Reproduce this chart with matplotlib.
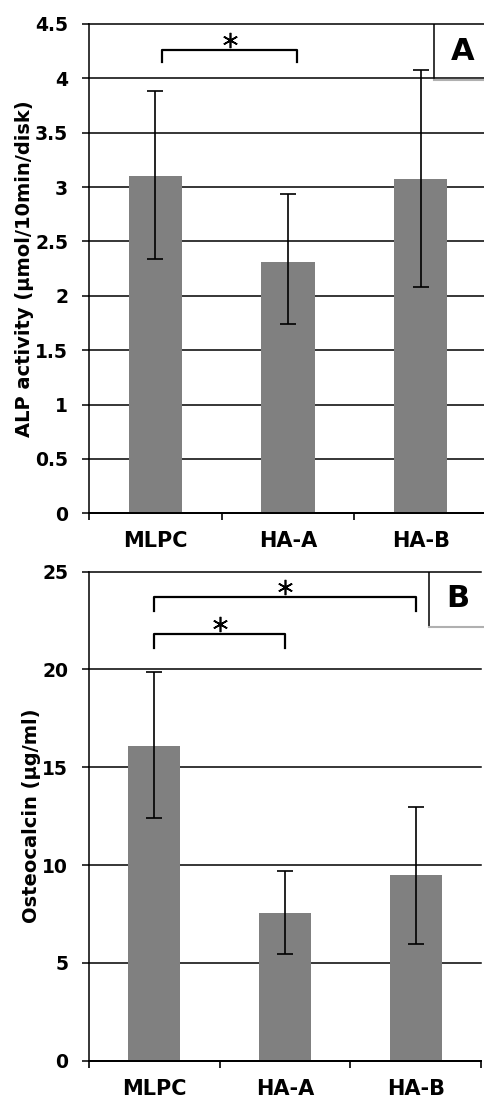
import numpy as np
import matplotlib.pyplot as plt
from matplotlib.patches import Rectangle
from matplotlib.transforms import offset_copy

plt.rcParams['font.family'] = ['DejaVu Sans']
plt.rcParams['font.weight'] = 'bold'

groups = ['MLPC', 'HA-A', 'HA-B']

# panel A: ALP activity
alp_mean = [3.10, 2.31, 3.07]
alp_low = [2.34, 1.74, 2.08]
alp_high = [3.88, 2.94, 4.08]

# panel B: osteocalcin
ocn_mean = [16.1, 7.55, 9.49]
ocn_low = [12.39, 5.44, 5.98]
ocn_high = [19.88, 9.69, 12.98]

# significance brackets: (from, to, height, drop)
alp_sig = [(0.05, 1.07, 4.26, 0.11)]
ocn_sig = [(0.0, 1.0, 21.8, 0.7), (0.0, 2.0, 23.68, 0.68)]

bar_color = '#808080'
W, H = 484, 1097
fig = plt.figure(figsize=(W / 100, H / 100), dpi=100)


def panel(rect, mean, low, high, ymax, ystep, ylabel, sig, letter, xright):
    ax = fig.add_axes(rect)
    x = np.arange(len(groups))
    mean = np.array(mean)
    yerr = [mean - np.array(low), np.array(high) - mean]
    ax.bar(x, mean, width=0.4, color=bar_color, zorder=2)
    ax.errorbar(x, mean, yerr=yerr, fmt='none', ecolor='black', elinewidth=1.2,
                capsize=6, capthick=1.2, zorder=3)
    ax.set_xlim(-0.5, xright)
    ax.set_ylim(0, ymax)
    ticks = np.arange(0, ymax + ystep / 2, ystep)
    ax.set_yticks(ticks)
    ax.set_yticklabels(['%g' % t for t in ticks], fontsize=13.5, fontweight='bold')
    for t in ticks:
        ax.axhline(t, color='black', lw=1.1, zorder=1, clip_on=False)
    ax.set_xticks(x)
    ax.set_xticklabels(groups, fontsize=15, fontweight='bold')
    ax.set_xticks(np.arange(-0.5, len(groups), 1.0), minor=True)
    ax.tick_params(axis='x', which='major', length=0, pad=13)
    ax.tick_params(axis='x', which='minor', length=5, width=1.2, direction='out')
    ax.tick_params(axis='y', length=5, width=1.1, direction='out', pad=10)
    for s in ['top', 'right']:
        ax.spines[s].set_visible(False)
    ax.spines['left'].set_linewidth(1.1)
    ax.spines['bottom'].set_linewidth(1.4)
    ax.set_ylabel(ylabel, fontsize=14, fontweight='bold', labelpad=1)

    star_tr = offset_copy(ax.transData, fig=fig, x=0, y=7.5, units='points')
    for a, b, y, d in sig:
        ax.plot([a, a, b, b], [y - d, y, y, y - d], color='black', lw=1.6, zorder=4)
        ax.plot([(a + b) / 2], [y], marker=(6, 2, 0), markersize=11, mew=1.2,
                color='black', transform=star_tr, zorder=4)

    # letter box in upper right
    bx, bw = 2.1, 0.5
    bh = ymax * 0.111
    ax.add_patch(Rectangle((bx, ymax - bh), bw, bh, facecolor='white',
                           edgecolor='none', zorder=0.5))
    ax.plot([bx, bx], [ymax - bh, ymax], color='black', lw=1.1, zorder=6)
    ax.plot([bx, bx + bw], [ymax - bh * 1.03, ymax - bh * 1.03], color='#b0b0b0',
            lw=1.5, zorder=6, clip_on=False)
    ax.text(bx + 0.22, ymax - bh / 2, letter, ha='center', va='center',
            fontsize=22, fontweight='bold', zorder=7)
    return ax


axA = panel([89 / W, 1 - 513.3 / H, 398 / W, 489.3 / H], alp_mean, alp_low, alp_high,
            4.5, 0.5, 'ALP activity (\u03bcmol/10min/disk)', alp_sig, 'A', 2.5)
axB = panel([89 / W, 1 - 1060.7 / H, 392 / W, 489.2 / H], ocn_mean, ocn_low, ocn_high,
            25, 5, 'Osteocalcin (\u03bcg/ml)', ocn_sig, 'B', 2.5)

fig.savefig('out.png', dpi=100)
